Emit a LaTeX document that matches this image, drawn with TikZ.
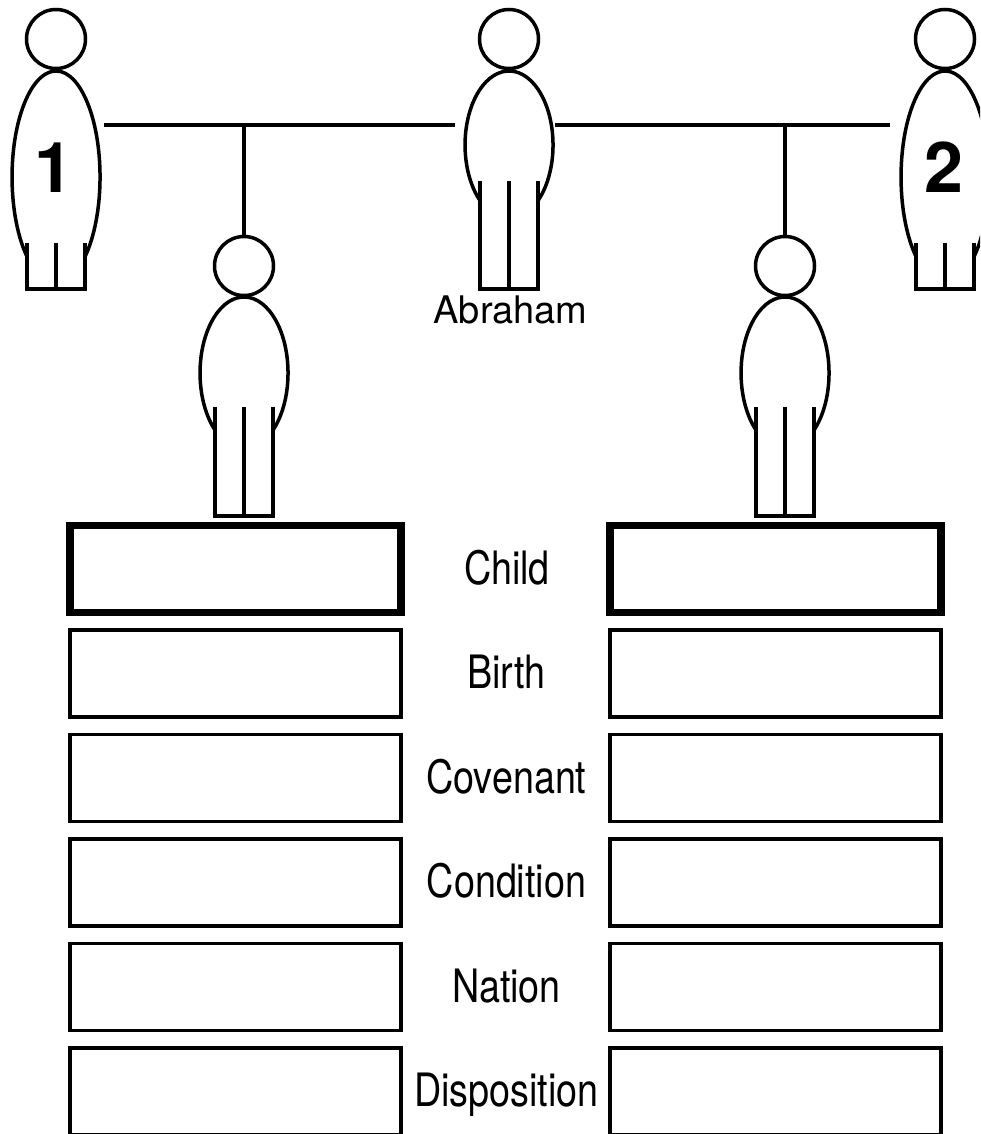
\documentclass[tikz,border=0pt]{standalone}
\usepackage{fontspec}
\setmainfont{TeX Gyre Heros}
\newfontfamily\rowfont[FakeStretch=0.82]{TeX Gyre Heros}
\usetikzlibrary{positioning}

\tikzset{
  figline/.style={black, line width=3.5pt},
  headnode/.style={circle, draw, figline, minimum size=59pt, inner sep=0pt},
  rowbox/.style={rectangle, draw, figline, minimum width=331pt, minimum height=87pt},
  topbox/.style={rowbox, line width=7.5pt},
  rowlabel/.style={anchor=base, inner sep=0pt, font=\rowfont\fontsize{46}{46}\selectfont},
  numlabel/.style={anchor=base, inner sep=0pt, font=\bfseries\fontsize{70}{70}\selectfont}
}

% name, x, head y, body centre y, body y radius, leg top, leg bottom
\newcommand{\person}[7]{
  \draw[figline] ({#2-29},{#4+0.751*#5}) arc[start angle=228.7, end angle=-48.7, x radius=44pt, y radius=#5 pt];
  \node[headnode] (#1) at (#2,#3) {};
  \draw[figline] ({#2-29},#6) -- ({#2-29},#7) -- ({#2+29},#7) -- ({#2+29},#6);
  \draw[figline] (#2,#6) -- (#2,#7);
}

\begin{document}
\begin{tikzpicture}[x=1pt,y=-1pt]
\useasboundingbox (0,0) rectangle (980,1134);
\clip (0,0) rectangle (980,1134);

% Figures
\person{wifeA}{56}{39}{177}{106}{243}{289}
\person{abraham}{509}{39}{145}{74}{181}{289}
\person{wifeB}{945}{39}{177}{106}{243}{289}
\person{childA}{244}{266}{373}{76}{407}{516}
\person{childB}{785}{266}{373}{76}{407}{516}

\node[numlabel] (numA) at (54,193) {1};
\node[numlabel] (numB) at (944,193) {2};
\node[anchor=base, inner sep=0pt, font=\fontsize{38}{38}\selectfont] (name) at (510.5,323) {Abraham};

% Marriage lines
\coordinate (lineA) at (104,125);
\coordinate (lineB) at (455,125);
\coordinate (lineC) at (555,125);
\coordinate (lineD) at (890,125);
\coordinate (dropA) at (244,125);
\coordinate (dropB) at (785,125);
\draw[figline] (lineA) -- (lineB);
\draw[figline] (lineC) -- (lineD);
\draw[figline] (dropA) -- (childA.north);
\draw[figline] (dropB) -- (childB.north);

% Top row
\node[topbox] (boxLt) at (235.5,568.75) {};
\node[topbox] (boxRt) at (775.5,568.75) {};
\node[rowlabel] (row0) at (507,584) {Child};

% Rows
\foreach \i/\rowname in {0/Birth,1/Covenant,2/Condition,3/Nation,4/Disposition}{
    \node[rowbox] (boxL\i) at (235.5,{673.5+104.5*\i}) {};
    \node[rowbox] (boxR\i) at (775.5,{673.5+104.5*\i}) {};
    \node[rowlabel] (rowtxt\i) at (506.5,{688.5+104.5*\i}) {\rowname};
}
\end{tikzpicture}
\end{document}
